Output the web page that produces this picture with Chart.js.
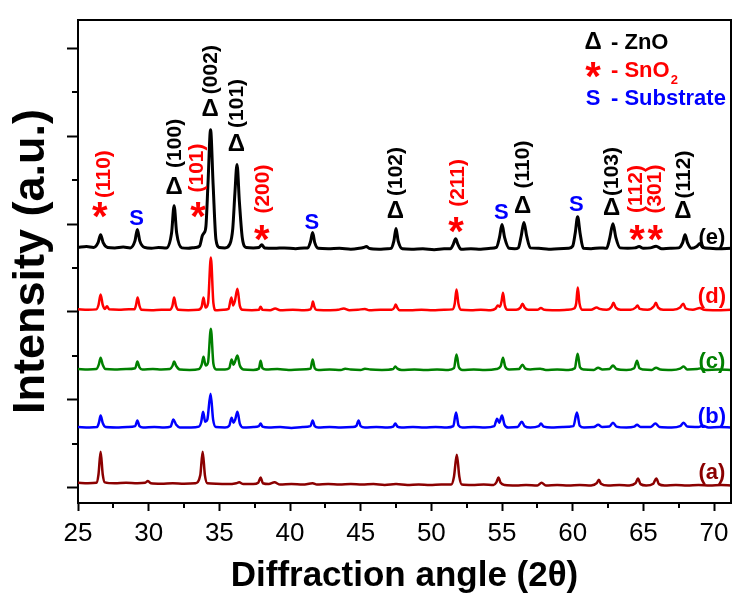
<!DOCTYPE html>
<html><head><meta charset="utf-8">
<script src="https://cdn.jsdelivr.net/npm/chart.js@4.4.0/dist/chart.umd.min.js"></script>
<style>html,body{margin:0;padding:0;background:#fff;}canvas{display:block;}</style>
</head><body>
<canvas id="c" width="756" height="607"></canvas>
<script>
const FONT = "'Liberation Sans', Arial, sans-serif";

// axis ticks
const X_TICKS = [25,30,35,40,45,50,55,60,65,70];
const X_MINOR = [27.5,32.5,37.5,42.5,47.5,52.5,57.5,62.5,67.5];
const Y_MAJOR = [0,2,4,6,8,10];
const Y_MINOR = [1,3,5,7,9];

// series: [2theta, intensity (offset, a.u.)]
const seriesA = [[25.0,0.11],[25.7,0.1],[26.3,0.11],[26.45,0.3],[26.6,0.82],[26.75,0.3],[26.9,0.12],[27.6,0.1],[28.4,0.11],[29.2,0.1],[29.75,0.11],[29.95,0.15],[30.15,0.1],[30.9,0.09],[31.7,0.1],[32.5,0.09],[33.3,0.1],[33.65,0.28],[33.82,0.82],[33.98,0.28],[34.15,0.1],[34.8,0.09],[35.6,0.08],[36.2,0.1],[36.4,0.12],[36.7,0.08],[37.4,0.08],[37.75,0.11],[37.92,0.23],[38.08,0.1],[38.5,0.08],[38.9,0.12],[39.3,0.07],[40.1,0.08],[40.9,0.07],[41.6,0.1],[41.9,0.07],[42.7,0.08],[43.5,0.07],[44.3,0.08],[45.1,0.07],[45.9,0.08],[46.7,0.06],[47.5,0.08],[48.3,0.06],[49.1,0.07],[49.9,0.06],[50.7,0.07],[51.4,0.07],[51.6,0.25],[51.8,0.75],[51.98,0.25],[52.15,0.07],[52.9,0.06],[53.7,0.07],[54.4,0.06],[54.6,0.12],[54.75,0.23],[54.9,0.11],[55.2,0.06],[56.0,0.05],[56.7,0.06],[57.5,0.05],[57.8,0.11],[58.1,0.05],[58.9,0.06],[59.7,0.05],[60.5,0.06],[61.3,0.05],[61.7,0.1],[61.85,0.18],[62.0,0.09],[62.5,0.05],[63.3,0.06],[64.0,0.05],[64.45,0.1],[64.62,0.21],[64.8,0.08],[65.2,0.05],[65.7,0.09],[65.92,0.21],[66.1,0.08],[66.5,0.05],[67.3,0.06],[68.1,0.05],[68.9,0.06],[69.7,0.05],[70.5,0.06],[71.2,0.05]];

const seriesB = [[25.0,1.38],[25.8,1.37],[26.35,1.38],[26.48,1.48],[26.6,1.64],[26.75,1.47],[26.95,1.38],[27.7,1.37],[28.5,1.38],[29.05,1.4],[29.2,1.53],[29.35,1.4],[29.6,1.37],[30.4,1.38],[31.1,1.37],[31.55,1.39],[31.75,1.55],[31.95,1.43],[32.2,1.37],[33.0,1.37],[33.55,1.39],[33.72,1.5],[33.85,1.73],[34.0,1.5],[34.15,1.55],[34.38,2.14],[34.56,1.55],[34.75,1.38],[35.4,1.37],[35.7,1.41],[35.87,1.59],[36.0,1.48],[36.12,1.55],[36.28,1.73],[36.45,1.46],[36.7,1.37],[37.4,1.38],[37.8,1.4],[37.92,1.46],[38.05,1.39],[38.5,1.37],[39.3,1.38],[40.1,1.36],[40.9,1.38],[41.45,1.4],[41.6,1.53],[41.75,1.4],[42.0,1.37],[42.8,1.38],[43.6,1.37],[44.4,1.38],[44.7,1.41],[44.85,1.53],[45.0,1.4],[45.3,1.37],[46.1,1.38],[46.9,1.37],[47.3,1.39],[47.45,1.46],[47.6,1.39],[47.9,1.37],[48.7,1.38],[49.5,1.37],[50.3,1.38],[51.1,1.37],[51.55,1.4],[51.75,1.71],[51.92,1.42],[52.2,1.37],[53.0,1.38],[53.8,1.37],[54.45,1.4],[54.65,1.57],[54.8,1.48],[55.0,1.64],[55.18,1.43],[55.45,1.37],[56.1,1.38],[56.4,1.5],[56.6,1.4],[57.0,1.37],[57.6,1.4],[57.75,1.46],[57.95,1.39],[58.5,1.37],[59.3,1.38],[60.05,1.4],[60.3,1.71],[60.5,1.41],[60.8,1.37],[61.5,1.38],[61.8,1.43],[62.1,1.38],[62.6,1.39],[62.85,1.48],[63.1,1.39],[63.8,1.37],[64.35,1.39],[64.55,1.43],[64.8,1.38],[65.5,1.38],[65.85,1.46],[66.15,1.38],[67.0,1.37],[67.6,1.4],[67.85,1.48],[68.1,1.39],[68.9,1.38],[69.2,1.41],[69.6,1.37],[70.4,1.38],[71.2,1.37]];

const seriesC = [[25.0,2.70],[25.7,2.69],[26.3,2.70],[26.47,2.8],[26.6,2.96],[26.75,2.8],[26.95,2.7],[27.6,2.69],[28.4,2.70],[29.05,2.72],[29.2,2.87],[29.35,2.74],[29.55,2.69],[30.3,2.70],[30.9,2.69],[31.5,2.70],[31.68,2.77],[31.8,2.87],[31.95,2.77],[32.2,2.69],[32.9,2.68],[33.55,2.7],[33.75,2.8],[33.88,2.98],[34.03,2.78],[34.2,2.85],[34.4,3.62],[34.58,2.82],[34.78,2.69],[35.4,2.69],[35.7,2.72],[35.87,2.92],[36.0,2.8],[36.12,2.88],[36.28,3.01],[36.45,2.78],[36.7,2.69],[37.4,2.68],[37.8,2.71],[37.92,2.89],[38.05,2.72],[38.3,2.69],[39.1,2.70],[39.9,2.68],[40.7,2.69],[41.45,2.71],[41.6,2.92],[41.75,2.72],[42.0,2.68],[42.8,2.69],[43.6,2.68],[43.9,2.71],[44.3,2.69],[45.0,2.68],[45.3,2.71],[45.7,2.69],[46.5,2.68],[47.3,2.7],[47.45,2.76],[47.6,2.71],[47.9,2.68],[48.8,2.69],[49.6,2.68],[50.4,2.69],[51.2,2.68],[51.6,2.72],[51.78,3.03],[51.95,2.74],[52.2,2.68],[53.0,2.69],[53.8,2.68],[54.6,2.7],[54.9,2.76],[55.07,2.96],[55.22,2.76],[55.5,2.69],[56.2,2.7],[56.45,2.8],[56.65,2.71],[57.0,2.69],[57.7,2.71],[58.1,2.68],[58.9,2.69],[59.7,2.68],[60.15,2.72],[60.35,3.05],[60.52,2.74],[60.8,2.69],[61.5,2.68],[61.8,2.73],[62.1,2.69],[62.6,2.7],[62.85,2.78],[63.1,2.7],[63.8,2.68],[64.35,2.72],[64.55,2.89],[64.72,2.72],[65.0,2.69],[65.6,2.68],[65.9,2.73],[66.2,2.69],[67.0,2.68],[67.6,2.71],[67.85,2.76],[68.1,2.69],[68.8,2.7],[69.1,2.72],[69.4,2.68],[70.3,2.69],[71.2,2.68]];

const seriesD = [[25.0,4.06],[25.7,4.05],[26.3,4.06],[26.45,4.16],[26.6,4.40],[26.75,4.16],[26.9,4.07],[27.05,4.13],[27.2,4.06],[27.9,4.05],[28.6,4.06],[29.0,4.06],[29.1,4.15],[29.22,4.33],[29.35,4.14],[29.5,4.05],[30.2,4.04],[30.9,4.05],[31.5,4.05],[31.68,4.14],[31.8,4.33],[31.93,4.14],[32.1,4.05],[32.8,4.04],[33.5,4.05],[33.75,4.12],[33.88,4.33],[34.02,4.1],[34.2,4.2],[34.4,5.24],[34.58,4.2],[34.75,4.04],[35.3,4.05],[35.65,4.07],[35.85,4.33],[35.98,4.15],[36.1,4.25],[36.28,4.53],[36.45,4.14],[36.65,4.05],[37.3,4.04],[37.8,4.05],[37.92,4.12],[38.05,4.05],[38.6,4.04],[38.95,4.08],[39.3,4.04],[40.2,4.05],[41.0,4.04],[41.45,4.06],[41.55,4.14],[41.62,4.24],[41.72,4.12],[41.85,4.05],[42.6,4.04],[43.4,4.05],[43.8,4.08],[44.2,4.04],[44.8,4.05],[45.3,4.07],[45.6,4.04],[46.4,4.05],[47.2,4.05],[47.38,4.1],[47.48,4.17],[47.6,4.09],[47.75,4.04],[48.5,4.04],[49.3,4.05],[50.1,4.04],[50.9,4.05],[51.5,4.06],[51.65,4.18],[51.78,4.51],[51.92,4.18],[52.1,4.05],[52.8,4.04],[53.5,4.05],[54.2,4.04],[54.55,4.08],[54.7,4.15],[54.85,4.12],[54.97,4.25],[55.07,4.44],[55.2,4.15],[55.4,4.05],[56.0,4.05],[56.3,4.1],[56.45,4.19],[56.6,4.1],[56.85,4.05],[57.5,4.05],[57.75,4.09],[58.0,4.05],[58.8,4.04],[59.6,4.05],[60.1,4.08],[60.25,4.2],[60.36,4.56],[60.48,4.2],[60.7,4.05],[61.3,4.05],[61.7,4.1],[61.9,4.07],[62.4,4.05],[62.75,4.12],[62.88,4.21],[63.05,4.1],[63.4,4.05],[64.1,4.05],[64.45,4.1],[64.58,4.15],[64.75,4.07],[65.3,4.05],[65.75,4.13],[65.88,4.21],[66.05,4.1],[66.4,4.05],[67.1,4.05],[67.6,4.1],[67.82,4.19],[68.0,4.08],[68.5,4.05],[69.0,4.09],[69.3,4.05],[70.2,4.04],[71.2,4.05]];

const seriesE = [[25.0,5.47],[25.6,5.49],[26.1,5.47],[26.42,5.58],[26.6,5.76],[26.78,5.58],[27.1,5.47],[27.6,5.46],[28.2,5.48],[28.7,5.46],[29.03,5.62],[29.2,5.88],[29.37,5.62],[29.7,5.47],[30.2,5.45],[30.7,5.47],[31.25,5.46],[31.62,5.8],[31.8,6.42],[31.98,5.8],[32.35,5.46],[32.8,5.45],[33.3,5.47],[33.6,5.5],[33.8,5.74],[33.92,5.8],[34.05,5.95],[34.2,6.95],[34.38,8.15],[34.56,6.9],[34.76,5.65],[35.0,5.47],[35.4,5.46],[35.75,5.55],[35.95,5.9],[36.1,6.7],[36.25,7.36],[36.42,6.5],[36.62,5.7],[36.9,5.47],[37.4,5.46],[37.8,5.47],[38.0,5.53],[38.2,5.46],[38.9,5.45],[39.6,5.46],[40.4,5.44],[41.0,5.46],[41.25,5.46],[41.45,5.6],[41.6,5.81],[41.75,5.58],[42.0,5.45],[42.7,5.44],[43.5,5.45],[44.3,5.43],[44.9,5.45],[45.2,5.47],[45.4,5.49],[45.6,5.45],[46.3,5.43],[46.9,5.44],[47.15,5.45],[47.35,5.62],[47.5,5.90],[47.65,5.62],[47.95,5.44],[48.6,5.43],[49.4,5.44],[50.2,5.42],[50.9,5.44],[51.35,5.44],[51.55,5.54],[51.72,5.67],[51.88,5.54],[52.1,5.43],[52.8,5.44],[53.5,5.43],[54.2,5.45],[54.6,5.47],[54.82,5.7],[55.0,5.99],[55.18,5.7],[55.5,5.45],[55.9,5.44],[56.15,5.46],[56.35,5.72],[56.55,6.04],[56.75,5.72],[57.0,5.46],[57.6,5.45],[58.3,5.43],[59.0,5.44],[59.7,5.45],[60.0,5.5],[60.18,5.8],[60.35,6.17],[60.52,5.8],[60.75,5.45],[61.3,5.44],[61.9,5.46],[62.4,5.45],[62.62,5.68],[62.85,6.01],[63.05,5.7],[63.35,5.46],[63.9,5.45],[64.4,5.46],[64.7,5.49],[65.0,5.45],[65.5,5.46],[65.9,5.5],[66.3,5.44],[66.9,5.45],[67.5,5.46],[67.78,5.58],[67.95,5.76],[68.12,5.58],[68.4,5.45],[68.8,5.5],[69.0,5.56],[69.2,5.47],[69.7,5.45],[70.3,5.44],[71.2,5.45]];

const SERIES = [seriesA, seriesB, seriesC, seriesD, seriesE];
const SERIES_NAMES = ['(a)','(b)','(c)','(d)','(e)'];
const SERIES_COLORS = ['#8b0000','#0000ff','#008000','#ff0000','#000000'];
const SERIES_LABEL_Y = [0.35,1.64,2.89,4.36,5.71];
const SERIES_LABEL_X = 69.85;

// peak annotations
const ZNO_MARKS = [[31.8,6.83,7.84,'(100)'],[34.35,8.61,9.52,'(002)'],[36.2,7.81,8.75,'(101)'],[47.45,6.29,7.2,'(102)'],[56.45,6.40,7.36,'(110)'],[62.75,6.36,7.2,'(103)'],[67.8,6.29,7.13,'(112)']];
const SNO2_MARKS = [[26.55,6.33,26.8,7.14,'(110)'],[33.5,6.33,33.35,7.28,'(101)'],[38.0,5.79,38.05,6.8,'(200)'],[51.75,5.97,51.8,6.94,'(211)'],[64.55,5.81,64.4,6.8,'(112)'],[65.85,5.81,65.8,6.8,'(301)']];
const SUB_MARKS = [[29.15,6.15],[41.55,6.06],[54.95,6.29],[60.25,6.45]];

const decor = {
  id: 'decor',
  afterDatasetsDraw(chart) {
    const ctx = chart.ctx, xs = chart.scales.x, ys = chart.scales.y;
    const X = v => xs.getPixelForValue(v), Y = v => ys.getPixelForValue(v);
    ctx.save();
    const star = (x, y, size) => {
      ctx.font = `bold ${size}px ${FONT}`;
      ctx.fillStyle = '#ff0000';
      ctx.textAlign = 'center'; ctx.textBaseline = 'alphabetic';
      ctx.fillText('*', x, y + 0.5 * size);
    };
    const delta = (x, y) => {
      ctx.font = `bold 24px ${FONT}`; ctx.fillStyle = '#000';
      ctx.textAlign = 'center'; ctx.textBaseline = 'middle';
      ctx.fillText('Δ', x, y);
    };
    const rot = (x, y, text, color) => {
      ctx.save();
      ctx.translate(x, y); ctx.rotate(-Math.PI / 2);
      ctx.font = `bold 21px ${FONT}`;
      ctx.fillStyle = color; ctx.textAlign = 'center'; ctx.textBaseline = 'middle';
      ctx.fillText(text, 0, 1);
      ctx.restore();
    };
    ZNO_MARKS.forEach(([x, sy, ly, t]) => {
      delta(X(x), Y(sy));
      rot(X(x), Y(ly), t, '#000');
    });
    SNO2_MARKS.forEach(([x, sy, lx, ly, t]) => {
      star(X(x), Y(sy), 40);
      rot(X(lx), Y(ly), t, '#ff0000');
    });
    SUB_MARKS.forEach(([x, sy]) => {
      ctx.font = `bold 22px ${FONT}`; ctx.fillStyle = '#0000ff';
      ctx.textAlign = 'center'; ctx.textBaseline = 'middle';
      ctx.fillText('S', X(x), Y(sy) + 1);
    });
    SERIES_NAMES.forEach((n, i) => {
      ctx.font = `bold 22px ${FONT}`; ctx.fillStyle = SERIES_COLORS[i];
      ctx.textAlign = 'center'; ctx.textBaseline = 'middle';
      ctx.fillText(n, X(SERIES_LABEL_X), Y(SERIES_LABEL_Y[i]) + 1);
    });
    // legend
    const a = chart.chartArea;
    const sx = a.right - 138, tx = a.right - 120;
    delta(sx, a.top + 22);
    ctx.font = `bold 22px ${FONT}`; ctx.fillStyle = '#000'; ctx.textAlign = 'left'; ctx.textBaseline = 'middle';
    ctx.fillText('- ZnO', tx, a.top + 23);
    star(sx, a.top + 50, 40);
    ctx.font = `bold 22px ${FONT}`; ctx.fillStyle = '#ff0000'; ctx.textAlign = 'left'; ctx.textBaseline = 'middle';
    ctx.fillText('- SnO', tx, a.top + 51);
    const w = ctx.measureText('- SnO').width;
    ctx.font = `bold 13px ${FONT}`;
    ctx.fillText('2', tx + w + 1, a.top + 60);
    ctx.font = `bold 22px ${FONT}`; ctx.fillStyle = '#0000ff'; ctx.textAlign = 'center';
    ctx.fillText('S', sx, a.top + 79);
    ctx.textAlign = 'left';
    ctx.fillText('- Substrate', tx, a.top + 79);
    ctx.restore();
  },
  afterDraw(chart) {
    const ctx = chart.ctx, xs = chart.scales.x, ys = chart.scales.y, a = chart.chartArea;
    ctx.save();
    ctx.strokeStyle = '#000'; ctx.lineWidth = 2;
    ctx.beginPath();
    ctx.moveTo(a.left, a.top); ctx.lineTo(a.right, a.top); ctx.lineTo(a.right, a.bottom);
    ctx.stroke();
    ctx.beginPath();
    X_MINOR.forEach(v => { const p = Math.round(xs.getPixelForValue(v)); ctx.moveTo(p, a.bottom); ctx.lineTo(p, a.bottom + 5); });
    Y_MINOR.forEach(v => { const p = Math.round(ys.getPixelForValue(v)); ctx.moveTo(a.left - 6, p); ctx.lineTo(a.left, p); });
    ctx.stroke();
    ctx.restore();
  }
};

new Chart(document.getElementById('c'), {
  type: 'line',
  data: {
    datasets: SERIES.map((s, i) => ({
      label: SERIES_NAMES[i],
      data: s.map(([x, y]) => ({x, y})),
      borderColor: SERIES_COLORS[i],
      borderWidth: i === 4 ? 3 : 2.5,
      pointRadius: 0,
      cubicInterpolationMode: 'monotone',
      fill: false
    }))
  },
  options: {
    responsive: false,
    devicePixelRatio: 1,
    animation: false,
    events: [],
    layout: { padding: { top: 20, right: 25, left: 0, bottom: 0 } },
    plugins: { legend: { display: false }, tooltip: { enabled: false }, title: { display: false } },
    scales: {
      x: {
        type: 'linear', min: 25, max: 71.2,
        afterBuildTicks: s => { s.ticks = X_TICKS.map(v => ({ value: v })); },
        afterFit: s => { s.height = 104; },
        ticks: { color: '#000', font: { family: FONT, size: 26 }, padding: 7, autoSkip: false, maxRotation: 0 },
        grid: { drawOnChartArea: false, drawTicks: true, tickLength: 8, tickWidth: 2, tickColor: '#000' },
        border: { display: true, color: '#000', width: 2 },
        title: { display: true, text: 'Diffraction angle (2θ)', color: '#000', font: { family: FONT, size: 35, weight: 'bold', lineHeight: 1 }, padding: { top: 0, bottom: 13 } }
      },
      y: {
        type: 'linear', min: -0.35, max: 10.65,
        afterBuildTicks: s => { s.ticks = Y_MAJOR.map(v => ({ value: v })); },
        afterFit: s => { s.width = 78; },
        ticks: { display: false },
        grid: { drawOnChartArea: false, drawTicks: true, tickLength: 11, tickWidth: 2, tickColor: '#000' },
        border: { display: true, color: '#000', width: 2 },
        title: { display: true, text: 'Intensity (a.u.)', color: '#000', font: { family: FONT, size: 45, weight: 'bold', lineHeight: 1 }, padding: { top: 9, bottom: 0 } }
      }
    }
  },
  plugins: [decor]
});
</script>
</body></html>
